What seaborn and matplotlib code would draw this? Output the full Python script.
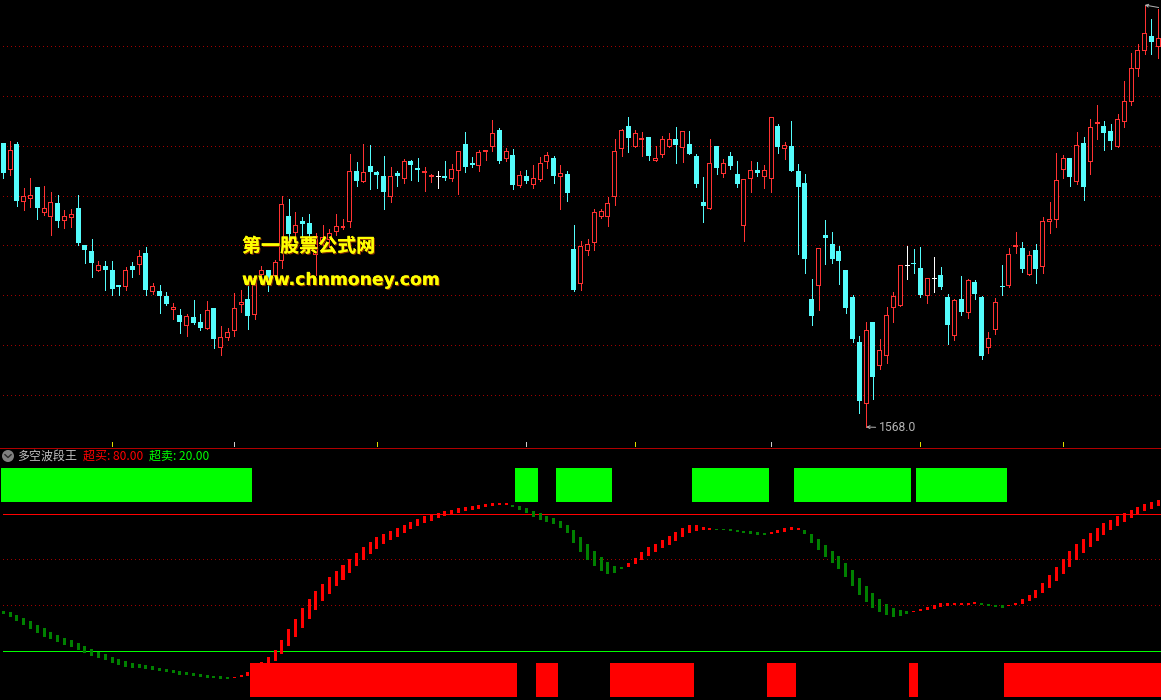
import numpy as np
import pandas as pd
import matplotlib
matplotlib.use("Agg")
import matplotlib.pyplot as plt
import matplotlib.patheffects as pe
from matplotlib.patches import Circle
import seaborn as sns

# daily candles, oldest first
candle_open = [
    1852, 1825, 1851, 1793, 1796, 1808, 1782, 1778, 1792, 1774,
    1777, 1787, 1750, 1744, 1724, 1729, 1725, 1710, 1708, 1729,
    1730, 1742, 1703, 1704, 1699, 1685, 1680, 1669, 1678, 1673,
    1666, 1687, 1647, 1657, 1664, 1690, 1696, 1680, 1720, 1725,
    1719, 1734, 1779, 1762, 1774, 1772, 1740, 1752, 1755, 1763,
    1767, 1773, 1824, 1813, 1829, 1823, 1819, 1798, 1822, 1816,
    1834, 1827, 1822, 1818, 1819, 1819, 1816, 1824, 1851, 1832,
    1829, 1843, 1848, 1865, 1836, 1840, 1809, 1819, 1810, 1815,
    1833, 1837, 1818, 1821, 1746, 1711, 1744, 1752, 1778, 1778,
    1798, 1846, 1869, 1848, 1855, 1858, 1834, 1840, 1848, 1856,
    1847, 1851, 1839, 1793, 1786, 1849, 1821, 1839, 1821, 1769,
    1816, 1825, 1818, 1816, 1869, 1846, 1849, 1824, 1812, 1696,
    1709, 1760, 1751, 1744, 1725, 1698, 1653, 1591, 1673, 1629,
    1639, 1687, 1689, 1730, 1732, 1727, 1699, 1717, 1720, 1698,
    1659, 1696, 1682, 1713, 1698, 1647, 1665, 1709, 1709, 1748,
    1747, 1720, 1745, 1728, 1773, 1775, 1825, 1837, 1813, 1852,
    1833, 1871, 1869, 1864, 1848, 1873, 1893, 1926, 1944, 1959, 1948,
]
candle_close = [
    1822, 1845, 1794, 1799, 1800, 1787, 1787, 1793, 1774, 1779,
    1781, 1752, 1745, 1732, 1730, 1725, 1706, 1708, 1725, 1725,
    1739, 1705, 1709, 1699, 1691, 1688, 1673, 1679, 1672, 1667,
    1685, 1656, 1658, 1663, 1687, 1693, 1679, 1717, 1725, 1713,
    1733, 1791, 1761, 1770, 1771, 1761, 1759, 1758, 1762, 1769,
    1769, 1824, 1814, 1823, 1823, 1820, 1803, 1819, 1819, 1834,
    1830, 1825, 1824, 1820, 1819, 1817, 1826, 1844, 1828, 1830,
    1843, 1845, 1862, 1834, 1844, 1810, 1820, 1814, 1817, 1832,
    1840, 1819, 1822, 1802, 1705, 1749, 1751, 1783, 1784, 1792,
    1844, 1865, 1857, 1862, 1857, 1839, 1837, 1856, 1856, 1850,
    1864, 1841, 1811, 1789, 1832, 1827, 1832, 1829, 1811, 1816,
    1825, 1822, 1825, 1878, 1848, 1850, 1824, 1808, 1736, 1679,
    1747, 1757, 1736, 1734, 1687, 1656, 1594, 1665, 1618, 1645,
    1680, 1699, 1730, 1730, 1731, 1700, 1717, 1717, 1708, 1670,
    1695, 1683, 1715, 1701, 1639, 1657, 1693, 1708, 1741, 1750,
    1726, 1740, 1726, 1774, 1776, 1815, 1837, 1818, 1850, 1808,
    1868, 1873, 1862, 1854, 1876, 1894, 1927, 1945, 1962, 1953, 1957,
]
candle_high = [
    1852, 1854, 1853, 1807, 1817, 1808, 1809, 1803, 1800, 1785,
    1786, 1800, 1750, 1756, 1734, 1734, 1734, 1710, 1728, 1733,
    1745, 1748, 1712, 1710, 1703, 1692, 1686, 1681, 1695, 1681,
    1694, 1687, 1669, 1667, 1702, 1705, 1710, 1719, 1729, 1725,
    1735, 1799, 1796, 1783, 1778, 1781, 1762, 1770, 1766, 1781,
    1776, 1841, 1833, 1851, 1850, 1824, 1839, 1828, 1824, 1836,
    1835, 1837, 1828, 1821, 1824, 1834, 1831, 1844, 1863, 1838,
    1845, 1845, 1875, 1867, 1847, 1846, 1824, 1825, 1830, 1838,
    1843, 1839, 1830, 1824, 1770, 1754, 1756, 1786, 1786, 1798,
    1856, 1866, 1878, 1865, 1863, 1858, 1849, 1859, 1862, 1868,
    1864, 1864, 1841, 1818, 1856, 1849, 1836, 1843, 1834, 1816,
    1834, 1833, 1830, 1878, 1871, 1853, 1874, 1831, 1821, 1716,
    1747, 1775, 1763, 1749, 1725, 1700, 1659, 1673, 1673, 1656,
    1688, 1703, 1730, 1749, 1746, 1748, 1717, 1738, 1728, 1701,
    1696, 1719, 1716, 1715, 1699, 1663, 1697, 1730, 1747, 1763,
    1753, 1744, 1751, 1778, 1793, 1842, 1840, 1837, 1863, 1858,
    1876, 1890, 1874, 1871, 1881, 1914, 1942, 1951, 1990, 1976, 1986,
]
candle_low = [
    1817, 1820, 1789, 1785, 1788, 1776, 1780, 1760, 1768, 1767,
    1768, 1750, 1732, 1718, 1724, 1705, 1700, 1700, 1705, 1718,
    1721, 1700, 1701, 1682, 1690, 1676, 1662, 1659, 1671, 1665,
    1666, 1647, 1640, 1655, 1659, 1683, 1666, 1676, 1720, 1704,
    1719, 1727, 1752, 1755, 1757, 1757, 1720, 1750, 1748, 1760,
    1766, 1768, 1809, 1813, 1806, 1807, 1786, 1793, 1809, 1812,
    1815, 1814, 1804, 1813, 1807, 1815, 1814, 1801, 1823, 1828,
    1824, 1835, 1844, 1832, 1834, 1806, 1808, 1812, 1807, 1814,
    1827, 1812, 1786, 1794, 1704, 1705, 1740, 1745, 1777, 1769,
    1790, 1839, 1843, 1848, 1839, 1835, 1834, 1838, 1848, 1832,
    1833, 1841, 1808, 1773, 1786, 1821, 1818, 1826, 1808, 1754,
    1803, 1819, 1807, 1803, 1842, 1836, 1824, 1741, 1722, 1670,
    1685, 1731, 1732, 1711, 1682, 1653, 1582, 1568, 1596, 1626,
    1632, 1673, 1689, 1716, 1722, 1698, 1692, 1703, 1706, 1651,
    1655, 1680, 1677, 1696, 1636, 1642, 1661, 1700, 1708, 1742,
    1723, 1720, 1712, 1722, 1762, 1768, 1817, 1809, 1811, 1795,
    1821, 1856, 1845, 1846, 1848, 1868, 1890, 1919, 1941, 1941, 1937,
]
price_levels = [1600, 1650, 1700, 1750, 1799, 1849, 1899, 1949]
low_label = "1568.0"

# oscillator band per bar
wave_high = [
    37.6, 37.2, 35.9, 34.6, 33.3, 31.5, 30.2, 28.5, 27.2, 25.9,
    25.0, 23.7, 22.4, 21.1, 19.8, 18.9, 17.6, 16.7, 15.9, 15.0,
    14.6, 14.1, 13.7, 12.8, 12.4, 12.0, 11.5, 11.1, 10.7, 10.2,
    9.8, 9.3, 9.3, 8.9, 8.9, 9.8, 11.1, 14.1, 15.6, 17.6,
    20.7, 25.0, 29.8, 34.1, 38.9, 42.8, 46.3, 49.3, 52.4, 55.0,
    57.6, 60.2, 62.8, 65.4, 67.6, 69.8, 71.1, 72.4, 73.7, 75.0,
    76.3, 77.6, 78.9, 79.8, 80.2, 81.1, 81.5, 82.4, 82.8, 83.3,
    83.7, 84.1, 84.6, 84.6, 84.6, 83.7, 83.3, 82.4, 81.1, 80.2,
    78.9, 78.0, 76.7, 75.0, 72.8, 69.8, 66.7, 63.7, 61.1, 58.9,
    57.2, 56.7, 58.5, 60.7, 63.3, 65.4, 66.7, 68.5, 70.2, 72.0,
    73.7, 75.0, 75.0, 74.1, 73.7, 73.3, 73.3, 73.3, 72.8, 72.4,
    72.4, 72.0, 71.5, 72.0, 72.8, 73.7, 74.1, 73.7, 72.8, 71.1,
    68.9, 66.3, 63.7, 61.5, 58.5, 55.4, 52.0, 48.5, 45.4, 42.8,
    40.7, 38.9, 38.0, 37.6, 37.6, 38.5, 39.3, 40.2, 41.1, 41.1,
    41.1, 41.1, 41.1, 41.5, 41.1, 40.7, 40.2, 40.2, 40.2, 41.1,
    42.8, 44.6, 46.7, 49.8, 53.3, 56.7, 60.2, 63.7, 66.7, 68.9,
    71.5, 73.7, 75.9, 77.2, 78.9, 80.2, 81.5, 82.8, 84.1, 85.0, 85.9,
]
wave_low = [
    36.3, 35.0, 33.3, 31.5, 29.8, 28.0, 26.3, 25.4, 24.1, 22.8,
    22.0, 20.7, 19.3, 18.0, 17.2, 16.3, 15.0, 14.1, 13.3, 12.8,
    12.8, 12.4, 12.0, 11.5, 11.1, 10.7, 9.8, 9.8, 9.3, 8.9,
    8.5, 8.5, 8.0, 8.0, 8.5, 8.9, 9.3, 10.7, 12.0, 13.0,
    15.9, 18.9, 22.4, 26.3, 30.2, 34.1, 38.0, 42.0, 45.0, 48.5,
    51.1, 54.1, 57.2, 59.8, 62.4, 64.6, 66.7, 68.5, 69.8, 71.5,
    73.2, 74.6, 75.9, 76.7, 78.0, 78.9, 79.3, 80.2, 81.1, 81.5,
    82.0, 82.8, 83.3, 83.7, 83.7, 82.8, 81.5, 80.2, 78.5, 77.2,
    76.3, 75.4, 73.7, 71.5, 67.2, 63.3, 59.8, 57.2, 55.0, 53.7,
    54.1, 55.9, 56.7, 58.0, 59.8, 61.5, 63.3, 65.0, 66.3, 68.0,
    69.8, 71.5, 72.4, 72.8, 72.8, 72.8, 72.8, 72.4, 72.0, 71.5,
    71.1, 70.7, 70.7, 71.1, 71.5, 72.0, 72.8, 72.8, 71.1, 67.2,
    64.1, 61.1, 58.5, 55.9, 52.4, 48.5, 44.6, 41.5, 38.9, 37.2,
    35.9, 35.0, 35.4, 36.3, 37.2, 37.6, 38.0, 38.5, 39.3, 39.8,
    40.2, 40.2, 40.2, 40.7, 40.2, 39.8, 39.3, 38.9, 39.8, 40.2,
    40.7, 41.9, 43.3, 45.4, 47.6, 50.7, 53.7, 56.7, 59.8, 62.8,
    65.4, 68.0, 70.7, 72.8, 74.6, 76.3, 78.0, 79.3, 81.1, 82.0, 83.3,
]
wave_trend = (["G"] * 34 + ["R"] * 41 + ["G"] * 17 + ["R"] * 13 + ["G"] * 8
              + ["R"] * 5 + ["G"] * 16 + ["R"] * 10 + ["G"] * 4 + ["R"] * 23)
signal = (["G"] * 37 + ["R"] * 39 + ["G"] * 3 + ["R"] * 3 + ["G"] * 8 + ["R"] * 12
          + ["G"] * 11 + ["R"] * 4 + ["G"] * 17 + ["R"] * 1 + ["G"] * 13 + ["R"] * 23)
wave_levels = [80, 20]
wave_grid = [60, 40]
date_ticks_yellow = [16, 55, 93, 135, 156]
date_ticks_white = [34, 77, 113]

RED = "#ff3232"
CYAN = "#54fcfc"
GRID = "#a00000"
PX = 0.72  # one pixel in points at dpi 100
BAR_STEP = 6.794
FIRST_BAR = 3.3

sns.set_theme(style="dark", rc={"figure.facecolor": "black", "axes.facecolor": "black"})
plt.rcParams['font.family'] = ['Noto Sans CJK SC', 'DejaVu Sans']

df = pd.DataFrame({"bar": np.arange(len(candle_open)), "open": candle_open, "close": candle_close,
                   "high": candle_high, "low": candle_low})
df["top"] = df[["open", "close"]].max(axis=1)
df["bottom"] = df[["open", "close"]].min(axis=1)
df["body"] = df["top"] - df["bottom"]
up = df[df["close"] > df["open"]]
down = df[df["close"] < df["open"]]
flat = df[df["close"] == df["open"]]
# hollow interior of the rising candles, one pixel in from the body
hollow = up[up["body"] > 2].assign(inner=lambda d: d["body"] - 2, inner_bottom=lambda d: d["bottom"] + 1)

wave = pd.DataFrame({"bar": np.arange(len(wave_high)), "hi": wave_high, "lo": wave_low,
                     "trend": wave_trend, "signal": signal})
wave["band"] = wave["hi"] - wave["lo"]


def bars(ax, data, y, bottom, width, color, **kws):
    sns.barplot(data=data, x="bar", y=y, bottom=bottom, native_scale=True, width=width, linewidth=0,
                color=color, saturation=1, errorbar=None, antialiased=False, ax=ax, **kws)


fig = plt.figure(figsize=(11.61, 7.0), dpi=100, facecolor="black")
price_ax = fig.add_axes([0, 253 / 700, 1, 447 / 700])
wave_ax = fig.add_axes([1 / 1161, 0, 1160 / 1161, 252 / 700])
over = fig.add_axes([0, 0, 1, 1])

# price panel
price_ax.hlines(price_levels, -1, 172, colors=GRID, linewidth=PX, linestyles=(0, (1, 3)),
                antialiased=False, zorder=0)
wick_colors = [RED if c > o else CYAN if c < o else "white" for o, c in zip(candle_open, candle_close)]
price_ax.vlines(df["bar"], df["low"], df["high"], colors=wick_colors, linewidth=PX, antialiased=False, zorder=1)
bars(price_ax, down, "body", down["bottom"], 5 / BAR_STEP, CYAN, zorder=2)
bars(price_ax, up, "body", up["bottom"], 5 / BAR_STEP, RED, zorder=2)
bars(price_ax, hollow, "inner", hollow["inner_bottom"], 3 / BAR_STEP, "black", zorder=3)
price_ax.hlines(flat["close"], flat["bar"] - 0.35, flat["bar"] + 0.35, colors="white", linewidth=PX,
                antialiased=False, zorder=2)

low_bar = df.loc[df["low"].idxmin()]
high_bar = df.loc[df["high"].idxmax()]
price_ax.annotate(low_label, xy=(low_bar["bar"], low_bar["low"]), xytext=(9.2, -0.7), textcoords="offset points",
                  color="#b4b4b4", fontsize=8.7, family="Roboto", va="center", zorder=4,
                  arrowprops=dict(arrowstyle="->", color="#b4b4b4", lw=PX, shrinkA=0, shrinkB=0, mutation_scale=5))
price_ax.annotate("", xy=(high_bar["bar"], high_bar["low"] + 49), xytext=(10, -1.8), textcoords="offset points",
                  arrowprops=dict(arrowstyle="->", color="#b4b4b4", lw=PX, shrinkA=0, shrinkB=0, mutation_scale=5),
                  annotation_clip=False)
price_ax.vlines(date_ticks_yellow, 1 / 447, 6 / 447, colors="#e0e000", linewidth=PX, linestyles=(0, (1, 1)),
                antialiased=False, transform=price_ax.get_xaxis_transform())
price_ax.vlines(date_ticks_white, 1 / 447, 6 / 447, colors="#d0d0d0", linewidth=PX, linestyles=(0, (1, 1)),
                antialiased=False, transform=price_ax.get_xaxis_transform())
price_ax.set_xlim(-FIRST_BAR / BAR_STEP, (1161 - FIRST_BAR) / BAR_STEP)
price_ax.set_ylim(1548, 1995)
price_ax.axis("off")

# oscillator panel
wave_ax.hlines(wave_grid, -1, 172, colors=GRID, linewidth=PX, linestyles=(0, (1, 3)),
               antialiased=False, zorder=0)
wave_ax.hlines(wave_levels, -1, 172, colors=GRID, linewidth=PX, linestyles=(0, (1, 3)),
               antialiased=False, zorder=0)
wave_ax.axhline(wave_levels[0], xmin=2 / 1160, color="#ff0000", linewidth=PX, antialiased=False, zorder=1)
wave_ax.axhline(wave_levels[1], xmin=2 / 1160, color="#00ff00", linewidth=PX, antialiased=False, zorder=1)
hold = wave[wave["signal"] == "G"].assign(h=15.0)
sell = wave[wave["signal"] == "R"].assign(h=15.0)
bars(wave_ax, hold, "h", 85.0, 9 / BAR_STEP, "#00ff00", zorder=2)
bars(wave_ax, sell, "h", 0.0, 9 / BAR_STEP, "#ff0000", zorder=2)
bars(wave_ax, wave[wave["trend"] == "G"], "band", wave[wave["trend"] == "G"]["lo"], 3 / BAR_STEP, "#008000", zorder=3)
bars(wave_ax, wave[wave["trend"] == "R"], "band", wave[wave["trend"] == "R"]["lo"], 3 / BAR_STEP, "#ff0000", zorder=3)
wave_ax.set_xlim((1 - FIRST_BAR) / BAR_STEP, (1161 - FIRST_BAR) / BAR_STEP)
wave_ax.set_ylim(-1.09, 108.48)
wave_ax.axis("off")

# title row, separator and watermark sit on a pixel overlay
over.set_xlim(0, 1161)
over.set_ylim(700, 0)
over.axis("off")
over.patch.set_alpha(0)
over.hlines(447.5, 0, 1161, colors="#b00000", linewidth=PX, antialiased=False)
over.add_patch(Circle((8, 456), 6, facecolor="#808080", edgecolor="none"))
over.plot([4.8, 8, 11.2], [454.5, 457.5, 454.5], color="#2a2a2a", linewidth=1.0)
over.text(17, 456, "多空波段王", color="#c0c0c0", fontsize=8.64, va="center")
over.text(83, 456, "超买: 80.00", color="#ff0000", fontsize=8.64, va="center")
over.text(149, 456, "超卖: 20.00", color="#00ff00", fontsize=8.64, va="center")

shadow = [pe.withSimplePatchShadow(offset=(0.8, -0.8), shadow_rgbFace="#8a3000", alpha=1), pe.Normal()]
over.text(242, 246.5, "第一股票公式网", color="#ffff00", fontsize=13.7, fontweight="bold",
          va="center", path_effects=shadow)
over.text(242, 280, "www.chnmoney.com", color="#ffff00", fontsize=12.4, fontweight="bold",
          family="DejaVu Sans", va="center", path_effects=shadow)

fig.savefig("out.png", dpi=100, facecolor="black")
